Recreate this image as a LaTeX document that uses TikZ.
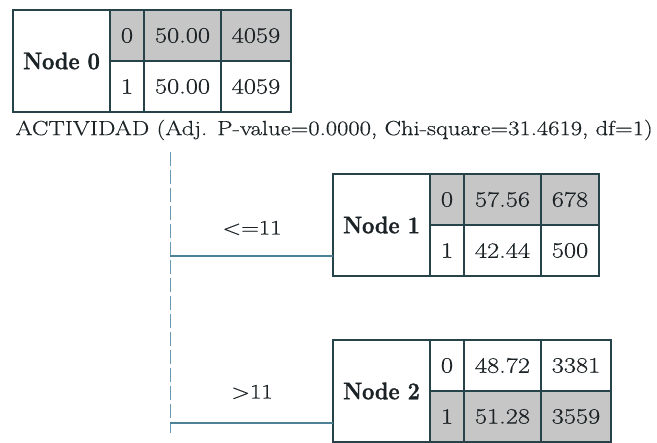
\documentclass[tikz,border=0pt]{standalone}
\usepackage{fontspec}
\setmainfont{Latin Modern Roman}[FakeStretch=1.2, FakeBold=0.6]
\newfontfamily\labfont{Latin Modern Roman}[FakeStretch=0.9, FakeBold=1.4]
\definecolor{boxc}{HTML}{27434A}
\definecolor{hl}{HTML}{C6C6C6}
\definecolor{linec}{HTML}{4D8196}
\definecolor{trunkc}{HTML}{6A9AB2}
\definecolor{ink}{HTML}{1C2326}
\begin{document}
\begin{tikzpicture}[x=1pt,y=-1pt,
  cell/.style={draw=boxc, line width=1.6pt, inner sep=0pt, outer sep=0pt,
    anchor=north west, minimum height=51pt, text=ink,
    font=\fontsize{22}{22}\selectfont},
  lab/.style={cell, minimum width=97pt, minimum height=102pt,
    font=\labfont\fontsize{24}{24}\selectfont\bfseries},
  cat/.style={cell, minimum width=34pt},
  pct/.style={cell, minimum width=77pt},
  cnt/.style={cell, minimum width=#1},
  hi/.style={fill=hl},
  branch/.style={draw=linec, line width=2.2pt},
  trunk/.style={draw=trunkc, line width=1pt, dash pattern=on 14pt off 4pt},
  cut/.style={text=ink, font=\fontsize{20.5}{20.5}\selectfont}
]
\useasboundingbox (0,0) rectangle (657,443);

% root node
\node[lab] (n0) at (13,10) {Node 0};
\node[cat,hi] (n0a) at (n0.north east) {0};
\node[pct,hi] (n0b) at (n0a.north east) {50.00};
\node[cnt=70pt,hi] (n0c) at (n0b.north east) {4059};
\node[cat] (n0d) at (n0a.south west) {1};
\node[pct] (n0e) at (n0d.north east) {50.00};
\node[cnt=70pt] (n0f) at (n0e.north east) {4059};

% splitting variable
\node[cut, anchor=west] (split) at (12,130)
  {ACTIVIDAD (Adj. P-value=0.0000, Chi-square=31.4619, df=1)};

% trunk
\coordinate (t0) at (170,152);
\coordinate (t1) at (170,433);
\draw[trunk] (t0) -- (t1);

% child 1
\node[lab] (n1) at (333,174) {Node 1};
\node[cat,hi] (n1a) at (n1.north east) {0};
\node[pct,hi] (n1b) at (n1a.north east) {57.56};
\node[cnt=58pt,hi] (n1c) at (n1b.north east) {678};
\node[cat] (n1d) at (n1a.south west) {1};
\node[pct] (n1e) at (n1d.north east) {42.44};
\node[cnt=58pt] (n1f) at (n1e.north east) {500};

% child 2
\node[lab] (n2) at (333,340) {Node 2};
\node[cat] (n2a) at (n2.north east) {0};
\node[pct] (n2b) at (n2a.north east) {48.72};
\node[cnt=70pt] (n2c) at (n2b.north east) {3381};
\node[cat,hi] (n2d) at (n2a.south west) {1};
\node[pct,hi] (n2e) at (n2d.north east) {51.28};
\node[cnt=70pt,hi] (n2f) at (n2e.north east) {3559};

% branches
\draw[branch] ([yshift=20pt]n1.south west) coordinate (b1) -- (b1 -| t0);
\draw[branch] ([yshift=19pt]n2.south west) coordinate (b2) -- (b2 -| t0);
\node[cut] (e1) at (252,228) {<=11};
\node[cut] (e2) at (252,392) {>11};
\end{tikzpicture}
\end{document}
